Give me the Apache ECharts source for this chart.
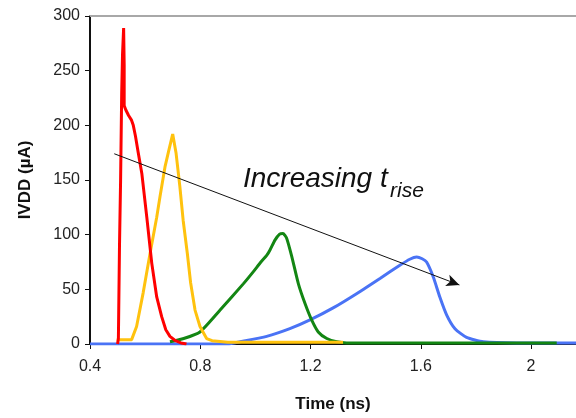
<!DOCTYPE html>
<html>
<head>
<meta charset="utf-8">
<script src="https://cdn.jsdelivr.net/npm/echarts@6/dist/echarts.min.js"></script>
<style>
  html, body { margin: 0; padding: 0; background: #fff; }
  #chart { width: 576px; height: 418px; }
</style>
</head>
<body>
<div id="chart"></div>
<script>
// 时间轴 (ns) 与 电流 (µA)
var xTicks = [0.4, 0.8, 1.2, 1.6, 2];
var yTicks = [0, 50, 100, 150, 200, 250, 300];

// 红线 最快上升
var redCurve = [
  [0.500, 0], [0.503, 5], [0.507, 90], [0.511, 150], [0.515, 230], [0.518, 265],
  [0.522, 289], [0.524, 255], [0.524, 218], [0.530, 214], [0.540, 209], [0.550, 205],
  [0.557, 200], [0.565, 190], [0.575, 175], [0.588, 156], [0.606, 116], [0.624, 74],
  [0.642, 43], [0.660, 25], [0.675, 13], [0.690, 7], [0.710, 3], [0.730, 1], [0.750, 0]
];
// 黄线
var yellowCurve = [
  [0.497, 4], [0.551, 4], [0.569, 16], [0.593, 47], [0.618, 83], [0.642, 116],
  [0.654, 135], [0.672, 162], [0.684, 175], [0.700, 192], [0.712, 175], [0.726, 144],
  [0.738, 113], [0.753, 83], [0.765, 56], [0.781, 31], [0.799, 16], [0.823, 5],
  [0.843, 3], [0.900, 1.5], [1.318, 1.5]
];
// 绿线
var greenCurve = [
  [0.690, 2], [0.740, 5], [0.799, 11], [0.872, 31], [0.956, 55], [0.992, 66],
  [1.020, 75], [1.041, 81], [1.053, 86], [1.071, 95], [1.088, 100.5], [1.100, 101],
  [1.113, 97], [1.132, 80], [1.156, 55], [1.180, 37], [1.204, 22], [1.228, 11], [1.259, 5],
  [1.295, 2], [1.331, 1], [2.093, 1]
];
// 蓝线 最慢上升
var blueCurve = [
  [0.400, 0], [0.900, 0], [0.944, 2], [1.041, 7], [1.125, 14], [1.198, 22],
  [1.282, 33], [1.367, 46], [1.452, 60], [1.524, 72], [1.560, 77.5], [1.585, 79.6],
  [1.605, 78], [1.621, 75], [1.645, 61.5], [1.669, 43], [1.694, 26.5], [1.724, 14], [1.766, 6],
  [1.827, 2], [1.948, 1], [2.163, 1]
];
// 箭头起止点
var arrowLine = [[0.488, 174], [1.74, 54]];

var FONT = 'Liberation Sans, Arial, sans-serif';

function lineSeries(name, data, color, smooth) {
  return {
    name: name,
    type: 'line',
    data: data,
    showSymbol: false,
    animation: false,
    smooth: smooth || false,
    lineStyle: { color: color, width: 3 },
    itemStyle: { color: color }
  };
}

var myChart = echarts.init(document.getElementById('chart'));

var blue = lineSeries('blue', blueCurve, '#4a73f5', 0.2);
blue.markLine = {
  silent: true,
  animation: false,
  symbol: ['none', 'arrow'],
  symbolSize: [9, 13],
  label: { show: false },
  lineStyle: { color: '#111', width: 1, type: 'solid' },
  data: [[{ coord: arrowLine[0] }, { coord: arrowLine[1] }]]
};

var option = {
  backgroundColor: '#fff',
  animation: false,
  grid: { left: 90, right: 0, top: 16, bottom: 74 },
  xAxis: [{
    type: 'value',
    min: xTicks[0],
    max: 2.163,
    interval: 0.4,
    name: 'Time (ns)',
    nameLocation: 'middle',
    nameGap: 52,
    nameTextStyle: { fontFamily: FONT, fontSize: 17, fontWeight: 'bold', color: '#111' },
    axisLine: { lineStyle: { color: '#111', width: 2 } },
    axisTick: { show: true, length: 5, lineStyle: { color: '#111' } },
    axisLabel: { showMaxLabel: false, margin: 15, fontFamily: FONT, fontSize: 16, color: '#222' },
    splitLine: { show: false }
  }, {
    type: 'value',
    position: 'top',
    min: xTicks[0],
    max: 2.163,
    axisLine: { show: true, lineStyle: { color: '#a8a8a8', width: 2 } },
    axisTick: { show: false },
    axisLabel: { show: false },
    splitLine: { show: false }
  }],
  yAxis: {
    type: 'value',
    min: yTicks[0],
    max: yTicks[yTicks.length - 1],
    interval: 50,
    name: 'IVDD (\u00b5A)',
    nameLocation: 'middle',
    nameGap: 56,
    nameTextStyle: { fontFamily: FONT, fontSize: 17, fontWeight: 'bold', color: '#111' },
    axisLine: { show: true, lineStyle: { color: '#111', width: 2 } },
    axisTick: { show: true, length: 5, lineStyle: { color: '#111' } },
    axisLabel: { margin: 10, fontFamily: FONT, fontSize: 16, color: '#222' },
    splitLine: { show: false }
  },
  graphic: [{
    type: 'text',
    left: 243,
    top: 165,
    style: { text: 'Increasing t', font: 'italic 28px ' + FONT, fill: '#111' }
  }, {
    type: 'text',
    left: 390,
    top: 181,
    style: { text: 'rise', font: 'italic 21px ' + FONT, fill: '#111' }
  }],
  series: [
    blue,
    lineSeries('green', greenCurve, '#138613', 0.2),
    lineSeries('yellow', yellowCurve, '#ffc20e'),
    lineSeries('red', redCurve, '#ff0000')
  ]
};

myChart.setOption(option);
</script>
</body>
</html>
